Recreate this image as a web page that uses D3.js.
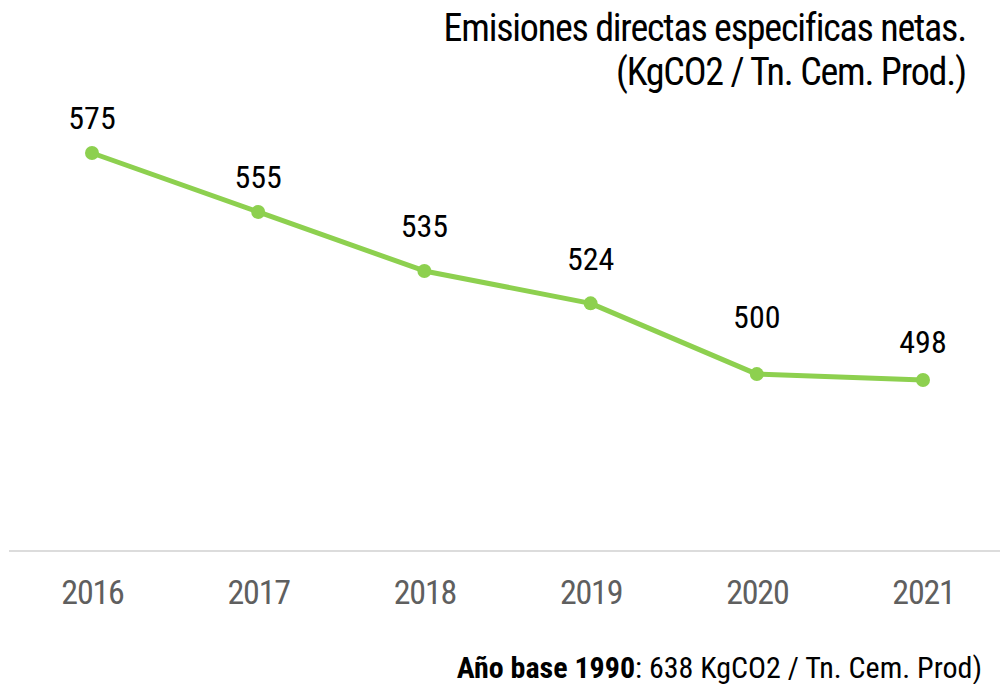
<!DOCTYPE html>
<html>
<head>
<meta charset="utf-8">
<script src="https://cdn.jsdelivr.net/npm/d3@7"></script>
<style>
  body { margin: 0; background: #fff; }
  svg text { font-family: "Liberation Sans Narrow", "Roboto Condensed", "DejaVu Sans Condensed", sans-serif; }
</style>
</head>
<body>
<svg id="chart" width="1000" height="684"></svg>
<script>
// Data
const years = ["2016", "2017", "2018", "2019", "2020", "2021"];
const emissions = [575, 555, 535, 524, 500, 498];
const titleLines = ["Emisiones directas especificas netas.", "(KgCO2 / Tn. Cem. Prod.)"];
const footBold = "Año base 1990";
const footRest = ": 638 KgCO2 / Tn. Cem. Prod)";

// label lift above each point (layout only)
const labelLift = [24, 24, 34, 33, 46, 27];

const svg = d3.select("#chart");
const width = +svg.attr("width");
const height = +svg.attr("height");

const axisY = 551;

// Scales
const x = d3.scalePoint()
  .domain(years)
  .range([92, 923]);

const y = d3.scaleLinear()
  .domain([440, 575])
  .range([axisY, 153]);

// Title
svg.append("g")
  .selectAll("text")
  .data(titleLines)
  .join("text")
    .attr("x", 966)
    .attr("y", (d, i) => 41 + i * 44)
    .attr("text-anchor", "end")
    .attr("font-size", 38)
    .attr("letter-spacing", -1.2)
    .attr("fill", "#000")
    .text(d => d);

// Baseline axis
const xAxis = d3.axisBottom(x).tickSize(0).tickPadding(0);
const ax = svg.append("g")
  .attr("transform", `translate(0,${axisY})`)
  .call(xAxis);
ax.select(".domain").remove();
ax.append("line")
  .attr("x1", 9).attr("x2", width)
  .attr("stroke", "#dcdcdc")
  .attr("stroke-width", 2);
ax.selectAll(".tick text")
  .attr("y", 53)
  .attr("dy", 0)
  .attr("font-size", 34)
  .attr("letter-spacing", -1.2)
  .attr("fill", "#5f5f5f");

// Line
const pts = years.map((yr, i) => ({yr, v: emissions[i], lift: labelLift[i]}));

svg.append("path")
  .datum(pts)
  .attr("fill", "none")
  .attr("stroke", "#8dd04f")
  .attr("stroke-width", 5)
  .attr("stroke-linejoin", "round")
  .attr("d", d3.line().x(d => x(d.yr)).y(d => y(d.v)));

svg.append("g")
  .selectAll("circle")
  .data(pts)
  .join("circle")
    .attr("cx", d => x(d.yr))
    .attr("cy", d => y(d.v))
    .attr("r", 7)
    .attr("fill", "#8dd04f");

// Value labels
svg.append("g")
  .selectAll("text")
  .data(pts)
  .join("text")
    .attr("x", d => x(d.yr))
    .attr("y", d => y(d.v) - d.lift)
    .attr("text-anchor", "middle")
    .attr("font-size", 32)
    .attr("fill", "#000")
    .text(d => d.v);

// Footnote
const foot = svg.append("text")
  .attr("x", 982)
  .attr("y", 678)
  .attr("text-anchor", "end")
  .attr("font-size", 30)
  .attr("fill", "#000");
foot.append("tspan").attr("font-weight", "bold").text(footBold);
foot.append("tspan").text(footRest);
</script>
</body>
</html>
